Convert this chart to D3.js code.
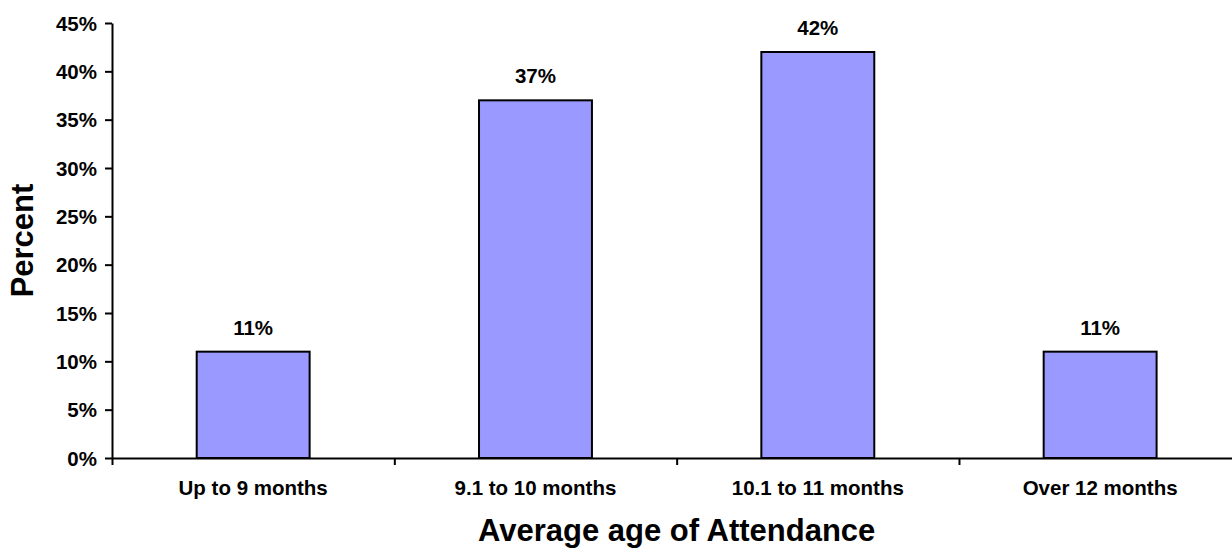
<!DOCTYPE html>
<html>
<head>
<meta charset="utf-8">
<script src="https://cdn.jsdelivr.net/npm/d3@7"></script>
<style>
  html, body { margin: 0; padding: 0; background: #fff; overflow: hidden; }
  svg { display: block; }
  text { font-family: "Liberation Sans", Arial, sans-serif; font-weight: bold; fill: #000; }
</style>
</head>
<body>
<script>
const categories = ["Up to 9 months", "9.1 to 10 months", "10.1 to 11 months", "Over 12 months"];
const values = [0.11, 0.37, 0.42, 0.11];
const valueLabels = ["11%", "37%", "42%", "11%"];
const yTicks = [0, 0.05, 0.10, 0.15, 0.20, 0.25, 0.30, 0.35, 0.40, 0.45];
const xTitle = "Average age of Attendance";
const yTitle = "Percent";

const W = 1232, H = 550;
const plotLeft = 112, plotRight = 1241.3, plotTop = 23, plotBottom = 458;

const svg = d3.select("body").append("svg").attr("width", W).attr("height", H);

const x = d3.scaleBand().domain(categories).range([plotLeft, plotRight])
  .paddingInner(0.6).paddingOuter(0.3);
const y = d3.scaleLinear().domain([0, 0.45]).range([plotBottom, plotTop]);
const xEdges = d3.scaleLinear().domain([0, categories.length]).range([plotLeft, plotRight]);

// bars
svg.append("g").selectAll("rect").data(values).join("rect")
  .attr("x", (d, i) => x(categories[i]))
  .attr("y", d => y(d))
  .attr("width", x.bandwidth())
  .attr("height", d => y(0) - y(d))
  .attr("fill", "#9999FF")
  .attr("stroke", "#000")
  .attr("stroke-width", 2);

// value labels
svg.append("g").selectAll("text").data(values).join("text")
  .attr("x", (d, i) => x(categories[i]) + x.bandwidth() / 2)
  .attr("y", d => y(d) - 17)
  .attr("text-anchor", "middle")
  .style("font-size", "20.5px")
  .text((d, i) => valueLabels[i]);

// y axis
const yAxis = svg.append("g").attr("transform", `translate(${plotLeft},0)`)
  .call(d3.axisLeft(y).tickValues(yTicks).tickFormat(d3.format(".0%")).tickSize(7).tickSizeOuter(0).tickPadding(8));
yAxis.selectAll("text").style("font-size", "20.5px").attr("dy", "0.35em");
yAxis.selectAll("line, path").attr("stroke", "#000").attr("stroke-width", 2);

// x axis
const xAxis = svg.append("g").attr("transform", `translate(0,${plotBottom})`)
  .call(d3.axisBottom(xEdges).tickValues(d3.range(0, categories.length + 1)).tickFormat("").tickSize(7).tickSizeOuter(0));
xAxis.selectAll("line, path").attr("stroke", "#000").attr("stroke-width", 2);

// category labels
svg.append("g").selectAll("text").data(categories).join("text")
  .attr("x", d => x(d) + x.bandwidth() / 2)
  .attr("y", 495)
  .attr("text-anchor", "middle")
  .style("font-size", "20.5px")
  .text(d => d);

// axis titles
svg.append("text")
  .attr("x", (plotLeft + plotRight) / 2)
  .attr("y", 541)
  .attr("text-anchor", "middle")
  .style("font-size", "31px")
  .text(xTitle);

svg.append("text")
  .attr("transform", `translate(33,${(plotTop + plotBottom) / 2}) rotate(-90)`)
  .attr("text-anchor", "middle")
  .style("font-size", "31px")
  .text(yTitle);
</script>
</body>
</html>
